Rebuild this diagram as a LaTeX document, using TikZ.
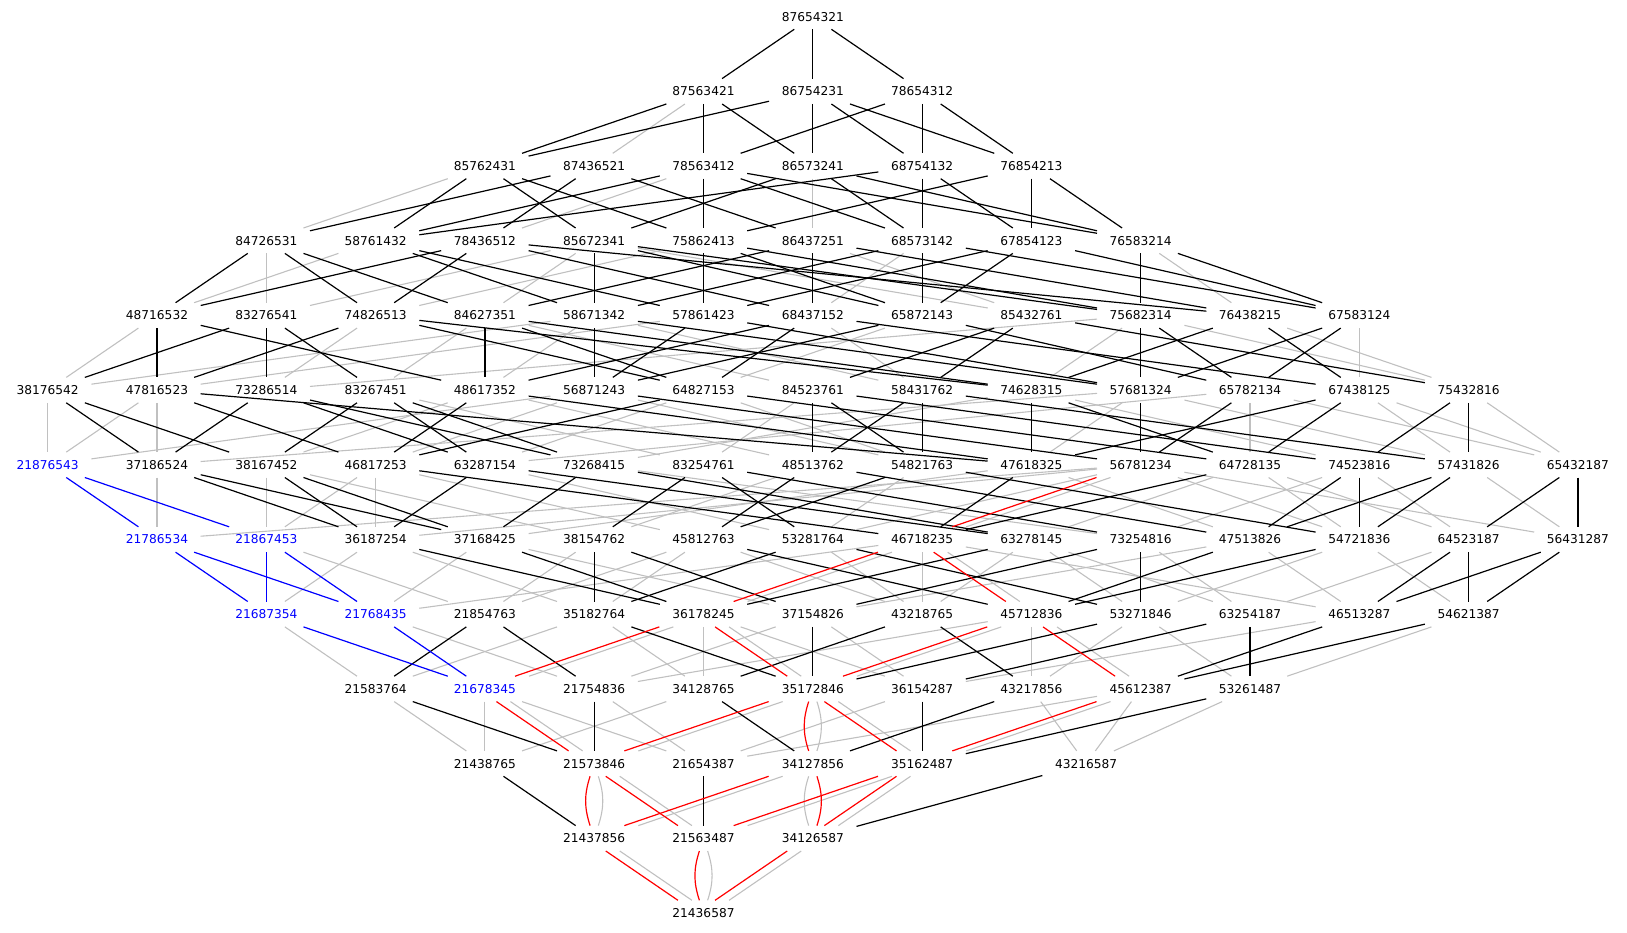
\documentclass[tikz,border=0pt]{standalone}
\usepackage{fontspec}
\setmainfont{DejaVu Sans}
\usepackage{tikz}
\definecolor{lightgr}{HTML}{C0C0C0}

\begin{document}
\begin{tikzpicture}[x=109.3pt,y=-74.7pt,
    perm/.style={font=\fontsize{12.2}{14}\selectfont,minimum width=87pt,minimum height=25pt,inner sep=0pt},
    hl/.style={perm,text=blue},
    gr/.style={draw=lightgr,line width=1.1pt},
    bk/.style={draw=black,line width=1.2pt},
    bu/.style={draw=blue,line width=1.2pt},
    rd/.style={draw=red,line width=1.2pt}]

    \useasboundingbox (-0.4364,-0.2222) rectangle (14.4492,12.2677);

    % rank 12 down to rank 0
    \node[perm] (p87654321) at (7,0) {87654321};

    \node[perm] (p87563421) at (6,1) {87563421};
    \node[perm] (p86754231) at (7,1) {86754231};
    \node[perm] (p78654312) at (8,1) {78654312};

    \node[perm] (p85762431) at (4,2) {85762431};
    \node[perm] (p87436521) at (5,2) {87436521};
    \node[perm] (p78563412) at (6,2) {78563412};
    \node[perm] (p86573241) at (7,2) {86573241};
    \node[perm] (p68754132) at (8,2) {68754132};
    \node[perm] (p76854213) at (9,2) {76854213};

    \node[perm] (p84726531) at (2,3) {84726531};
    \node[perm] (p58761432) at (3,3) {58761432};
    \node[perm] (p78436512) at (4,3) {78436512};
    \node[perm] (p85672341) at (5,3) {85672341};
    \node[perm] (p75862413) at (6,3) {75862413};
    \node[perm] (p86437251) at (7,3) {86437251};
    \node[perm] (p68573142) at (8,3) {68573142};
    \node[perm] (p67854123) at (9,3) {67854123};
    \node[perm] (p76583214) at (10,3) {76583214};

    \node[perm] (p48716532) at (1,4) {48716532};
    \node[perm] (p83276541) at (2,4) {83276541};
    \node[perm] (p74826513) at (3,4) {74826513};
    \node[perm] (p84627351) at (4,4) {84627351};
    \node[perm] (p58671342) at (5,4) {58671342};
    \node[perm] (p57861423) at (6,4) {57861423};
    \node[perm] (p68437152) at (7,4) {68437152};
    \node[perm] (p65872143) at (8,4) {65872143};
    \node[perm] (p85432761) at (9,4) {85432761};
    \node[perm] (p75682314) at (10,4) {75682314};
    \node[perm] (p76438215) at (11,4) {76438215};
    \node[perm] (p67583124) at (12,4) {67583124};

    \node[perm] (p38176542) at (0,5) {38176542};
    \node[perm] (p47816523) at (1,5) {47816523};
    \node[perm] (p73286514) at (2,5) {73286514};
    \node[perm] (p83267451) at (3,5) {83267451};
    \node[perm] (p48617352) at (4,5) {48617352};
    \node[perm] (p56871243) at (5,5) {56871243};
    \node[perm] (p64827153) at (6,5) {64827153};
    \node[perm] (p84523761) at (7,5) {84523761};
    \node[perm] (p58431762) at (8,5) {58431762};
    \node[perm] (p74628315) at (9,5) {74628315};
    \node[perm] (p57681324) at (10,5) {57681324};
    \node[perm] (p65782134) at (11,5) {65782134};
    \node[perm] (p67438125) at (12,5) {67438125};
    \node[perm] (p75432816) at (13,5) {75432816};

    \node[hl]   (p21876543) at (0,6) {21876543};
    \node[perm] (p37186524) at (1,6) {37186524};
    \node[perm] (p38167452) at (2,6) {38167452};
    \node[perm] (p46817253) at (3,6) {46817253};
    \node[perm] (p63287154) at (4,6) {63287154};
    \node[perm] (p73268415) at (5,6) {73268415};
    \node[perm] (p83254761) at (6,6) {83254761};
    \node[perm] (p48513762) at (7,6) {48513762};
    \node[perm] (p54821763) at (8,6) {54821763};
    \node[perm] (p47618325) at (9,6) {47618325};
    \node[perm] (p56781234) at (10,6) {56781234};
    \node[perm] (p64728135) at (11,6) {64728135};
    \node[perm] (p74523816) at (12,6) {74523816};
    \node[perm] (p57431826) at (13,6) {57431826};
    \node[perm] (p65432187) at (14,6) {65432187};

    \node[hl]   (p21786534) at (1,7) {21786534};
    \node[hl]   (p21867453) at (2,7) {21867453};
    \node[perm] (p36187254) at (3,7) {36187254};
    \node[perm] (p37168425) at (4,7) {37168425};
    \node[perm] (p38154762) at (5,7) {38154762};
    \node[perm] (p45812763) at (6,7) {45812763};
    \node[perm] (p53281764) at (7,7) {53281764};
    \node[perm] (p46718235) at (8,7) {46718235};
    \node[perm] (p63278145) at (9,7) {63278145};
    \node[perm] (p73254816) at (10,7) {73254816};
    \node[perm] (p47513826) at (11,7) {47513826};
    \node[perm] (p54721836) at (12,7) {54721836};
    \node[perm] (p64523187) at (13,7) {64523187};
    \node[perm] (p56431287) at (14,7) {56431287};

    \node[hl]   (p21687354) at (2,8) {21687354};
    \node[hl]   (p21768435) at (3,8) {21768435};
    \node[perm] (p21854763) at (4,8) {21854763};
    \node[perm] (p35182764) at (5,8) {35182764};
    \node[perm] (p36178245) at (6,8) {36178245};
    \node[perm] (p37154826) at (7,8) {37154826};
    \node[perm] (p43218765) at (8,8) {43218765};
    \node[perm] (p45712836) at (9,8) {45712836};
    \node[perm] (p53271846) at (10,8) {53271846};
    \node[perm] (p63254187) at (11,8) {63254187};
    \node[perm] (p46513287) at (12,8) {46513287};
    \node[perm] (p54621387) at (13,8) {54621387};

    \node[perm] (p21583764) at (3,9) {21583764};
    \node[hl]   (p21678345) at (4,9) {21678345};
    \node[perm] (p21754836) at (5,9) {21754836};
    \node[perm] (p34128765) at (6,9) {34128765};
    \node[perm] (p35172846) at (7,9) {35172846};
    \node[perm] (p36154287) at (8,9) {36154287};
    \node[perm] (p43217856) at (9,9) {43217856};
    \node[perm] (p45612387) at (10,9) {45612387};
    \node[perm] (p53261487) at (11,9) {53261487};

    \node[perm] (p21438765) at (4,10) {21438765};
    \node[perm] (p21573846) at (5,10) {21573846};
    \node[perm] (p21654387) at (6,10) {21654387};
    \node[perm] (p34127856) at (7,10) {34127856};
    \node[perm] (p35162487) at (8,10) {35162487};
    \node[perm] (p43216587) at (9.5,10) {43216587};

    \node[perm] (p21437856) at (5,11) {21437856};
    \node[perm] (p21563487) at (6,11) {21563487};
    \node[perm] (p34126587) at (7,11) {34126587};

    \node[perm] (p21436587) at (6,12) {21436587};

    % gray covers
    \path[gr] (p87563421) edge (p87436521);
    \path[gr] (p85762431) edge (p84726531);
    \path[gr] (p78563412) edge (p78436512);
    \path[gr] (p86573241) edge (p86437251);
    \path[gr] (p84726531) edge (p83276541);
    \path[gr] (p58761432) edge (p48716532);
    \path[gr] (p85672341) edge (p83276541) edge (p84627351) edge (p85432761);
    \path[gr] (p75862413) edge (p74826513);
    \path[gr] (p86437251) edge (p85432761);
    \path[gr] (p68573142) edge (p68437152);
    \path[gr] (p76583214) edge (p76438215);
    \path[gr] (p48716532) edge (p38176542);
    \path[gr] (p74826513) edge (p73286514);
    \path[gr] (p84627351) edge (p83267451) edge (p84523761);
    \path[gr] (p58671342) edge (p38176542) edge (p48617352) edge (p58431762);
    \path[gr] (p57861423) edge (p47816523);
    \path[gr] (p68437152) edge (p58431762);
    \path[gr] (p65872143) edge (p64827153);
    \path[gr] (p75682314) edge (p73286514) edge (p74628315) edge (p75432816);
    \path[gr] (p76438215) edge (p75432816);
    \path[gr] (p67583124) edge (p67438125);
    \path[gr] (p38176542) edge (p21876543);
    \path[gr] (p47816523) edge (p21876543) edge (p37186524);
    \path[gr] (p83267451) edge (p83254761);
    \path[gr] (p48617352) edge (p38167452) edge (p48513762);
    \path[gr] (p56871243) edge (p21876543) edge (p46817253) edge (p54821763);
    \path[gr] (p64827153) edge (p54821763) edge (p63287154);
    \path[gr] (p84523761) edge (p83254761);
    \path[gr] (p74628315) edge (p73268415) edge (p74523816);
    \path[gr] (p57681324) edge (p37186524) edge (p47618325) edge (p57431826);
    \path[gr] (p65782134) edge (p63287154) edge (p64728135) edge (p65432187);
    \path[gr] (p67438125) edge (p57431826) edge (p65432187);
    \path[gr] (p75432816) edge (p65432187);
    \path[gr] (p37186524) edge (p21786534);
    \path[gr] (p38167452) edge (p21867453) edge (p38154762);
    \path[gr] (p46817253) edge (p21867453) edge (p36187254) edge (p45812763);
    \path[gr] (p63287154) edge (p53281764);
    \path[gr] (p73268415) edge (p73254816);
    \path[gr] (p48513762) edge (p38154762);
    \path[gr] (p54821763) edge (p53281764);
    \path[gr] (p47618325) edge (p37168425) edge (p47513826);
    \path[gr] (p56781234) edge (p21786534) edge (p36187254) edge (p53281764) edge (p54721836) edge (p56431287);
    \path[gr] (p64728135) edge (p54721836) edge (p63278145) edge (p64523187);
    \path[gr] (p74523816) edge (p64523187) edge (p73254816);
    \path[gr] (p57431826) edge (p56431287);
    \path[gr] (p21867453) edge (p21854763);
    \path[gr] (p36187254) edge (p21687354) edge (p35182764);
    \path[gr] (p37168425) edge (p21768435) edge (p37154826);
    \path[gr] (p38154762) edge (p21854763);
    \path[gr] (p45812763) edge (p21854763) edge (p35182764) edge (p43218765);
    \path[gr] (p53281764) edge (p43218765);
    \path[gr] (p46718235) edge (p21768435) edge (p43218765) edge (p46513287);
    \path[gr] (p63278145) edge (p43218765) edge (p53271846) edge (p63254187);
    \path[gr] (p73254816) edge (p63254187);
    \path[gr] (p47513826) edge (p37154826) edge (p46513287);
    \path[gr] (p54721836) edge (p53271846) edge (p54621387);
    \path[gr] (p64523187) edge (p63254187);
    \path[gr] (p21687354) edge (p21583764);
    \path[gr] (p21768435) edge (p21754836);
    \path[gr] (p35182764) edge (p21583764) edge (p34128765);
    \path[gr] (p36178245) edge (p34128765) edge (p36154287);
    \path[gr] (p37154826) edge (p21754836) edge (p36154287);
    \path[gr] (p45712836) edge (p21754836) edge (p43217856);
    \path[gr] (p53271846) edge (p43217856) edge (p53261487);
    \path[gr] (p46513287) edge (p36154287);
    \path[gr] (p54621387) edge (p53261487);
    \path[gr] (p21583764) edge (p21438765);
    \path[gr] (p21678345) edge (p21438765) edge (p21654387);
    \path[gr] (p21754836) edge (p21654387);
    \path[gr] (p34128765) edge (p21438765);
    \path[gr] (p36154287) edge (p21654387);
    \path[gr] (p43217856) edge (p43216587);
    \path[gr] (p45612387) edge (p21654387) edge (p43216587);
    \path[gr] (p53261487) edge (p43216587);

    % gray covers that also carry a red one
    \begin{scope}[transform canvas={xshift=7pt}]
    \path[gr] (p56781234) edge (p46718235);
    \path[gr] (p46718235) edge (p36178245) edge (p45712836);
    \path[gr] (p36178245) edge (p21678345) edge (p35172846);
    \path[gr] (p45712836) edge (p35172846) edge (p45612387);
    \path[gr] (p21678345) edge (p21573846);
    \path[gr] (p35172846) edge (p21573846) edge (p35162487);
    \path[gr] (p45612387) edge (p35162487);
    \path[gr] (p21573846) edge (p21563487);
    \path[gr] (p34127856) edge (p21437856);
    \path[gr] (p35162487) edge (p21563487) edge (p34126587);
    \path[gr] (p21437856) edge (p21436587);
    \path[gr] (p34126587) edge (p21436587);
    \end{scope}
    \path[gr] (p35172846) edge[bend left=18] (p34127856);
    \path[gr] (p21573846) edge[bend left=18] (p21437856);
    \path[gr] (p34127856) edge[bend right=18] (p34126587);
    \path[gr] (p21563487) edge[bend left=18] (p21436587);

    % black covers
    \path[bk] (p87654321) edge (p78654312) edge (p86754231) edge (p87563421);
    \path[bk] (p87563421) edge (p78563412) edge (p85762431) edge (p86573241);
    \path[bk] (p86754231) edge (p68754132) edge (p76854213) edge (p85762431) edge (p86573241);
    \path[bk] (p78654312) edge (p68754132) edge (p76854213) edge (p78563412);
    \path[bk] (p85762431) edge (p58761432) edge (p75862413) edge (p85672341);
    \path[bk] (p87436521) edge (p78436512) edge (p84726531) edge (p86437251);
    \path[bk] (p78563412) edge (p58761432) edge (p68573142) edge (p75862413) edge (p76583214);
    \path[bk] (p86573241) edge (p68573142) edge (p76583214) edge (p85672341);
    \path[bk] (p68754132) edge (p58761432) edge (p67854123) edge (p68573142);
    \path[bk] (p76854213) edge (p67854123) edge (p75862413) edge (p76583214);
    \path[bk] (p84726531) edge (p48716532) edge (p74826513) edge (p84627351);
    \path[bk] (p58761432) edge (p57861423) edge (p58671342);
    \path[bk] (p78436512) edge (p48716532) edge (p68437152) edge (p74826513) edge (p76438215);
    \path[bk] (p85672341) edge (p58671342) edge (p65872143) edge (p75682314);
    \path[bk] (p75862413) edge (p57861423) edge (p65872143) edge (p75682314);
    \path[bk] (p86437251) edge (p68437152) edge (p76438215) edge (p84627351);
    \path[bk] (p68573142) edge (p58671342) edge (p65872143) edge (p67583124);
    \path[bk] (p67854123) edge (p57861423) edge (p65872143) edge (p67583124);
    \path[bk] (p76583214) edge (p67583124) edge (p75682314);
    \path[bk] (p48716532) edge (p47816523) edge (p48617352);
    \path[bk] (p83276541) edge (p38176542) edge (p73286514) edge (p83267451);
    \path[bk] (p74826513) edge (p47816523) edge (p64827153) edge (p74628315);
    \path[bk] (p84627351) edge (p48617352) edge (p64827153) edge (p74628315);
    \path[bk] (p58671342) edge (p56871243) edge (p57681324);
    \path[bk] (p57861423) edge (p56871243) edge (p57681324);
    \path[bk] (p68437152) edge (p48617352) edge (p64827153) edge (p67438125);
    \path[bk] (p65872143) edge (p56871243) edge (p65782134);
    \path[bk] (p85432761) edge (p58431762) edge (p75432816) edge (p84523761);
    \path[bk] (p75682314) edge (p57681324) edge (p65782134);
    \path[bk] (p76438215) edge (p67438125) edge (p74628315);
    \path[bk] (p67583124) edge (p57681324) edge (p65782134);
    \path[bk] (p38176542) edge (p37186524) edge (p38167452);
    \path[bk] (p47816523) edge (p46817253) edge (p47618325);
    \path[bk] (p73286514) edge (p37186524) edge (p63287154) edge (p73268415);
    \path[bk] (p83267451) edge (p38167452) edge (p63287154) edge (p73268415);
    \path[bk] (p48617352) edge (p46817253) edge (p47618325);
    \path[bk] (p56871243) edge (p56781234);
    \path[bk] (p64827153) edge (p46817253) edge (p64728135);
    \path[bk] (p84523761) edge (p48513762) edge (p54821763) edge (p74523816);
    \path[bk] (p58431762) edge (p48513762) edge (p54821763) edge (p57431826);
    \path[bk] (p74628315) edge (p47618325) edge (p64728135);
    \path[bk] (p57681324) edge (p56781234);
    \path[bk] (p65782134) edge (p56781234);
    \path[bk] (p67438125) edge (p47618325) edge (p64728135);
    \path[bk] (p75432816) edge (p57431826) edge (p74523816);
    \path[bk] (p37186524) edge (p36187254) edge (p37168425);
    \path[bk] (p38167452) edge (p36187254) edge (p37168425);
    \path[bk] (p46817253) edge (p46718235);
    \path[bk] (p63287154) edge (p36187254) edge (p63278145);
    \path[bk] (p73268415) edge (p37168425) edge (p63278145);
    \path[bk] (p83254761) edge (p38154762) edge (p53281764) edge (p73254816);
    \path[bk] (p48513762) edge (p45812763) edge (p47513826);
    \path[bk] (p54821763) edge (p45812763) edge (p54721836);
    \path[bk] (p47618325) edge (p46718235);
    \path[bk] (p64728135) edge (p46718235);
    \path[bk] (p74523816) edge (p47513826) edge (p54721836);
    \path[bk] (p57431826) edge (p47513826) edge (p54721836);
    \path[bk] (p65432187) edge (p56431287) edge (p64523187);
    \path[bk] (p36187254) edge (p36178245);
    \path[bk] (p37168425) edge (p36178245);
    \path[bk] (p38154762) edge (p35182764) edge (p37154826);
    \path[bk] (p45812763) edge (p45712836);
    \path[bk] (p53281764) edge (p35182764) edge (p53271846);
    \path[bk] (p63278145) edge (p36178245);
    \path[bk] (p73254816) edge (p37154826) edge (p53271846);
    \path[bk] (p47513826) edge (p45712836);
    \path[bk] (p54721836) edge (p45712836);
    \path[bk] (p64523187) edge (p46513287) edge (p54621387);
    \path[bk] (p56431287) edge (p46513287) edge (p54621387);
    \path[bk] (p21854763) edge (p21583764) edge (p21754836);
    \path[bk] (p35182764) edge (p35172846);
    \path[bk] (p37154826) edge (p35172846);
    \path[bk] (p43218765) edge (p34128765) edge (p43217856);
    \path[bk] (p53271846) edge (p35172846);
    \path[bk] (p63254187) edge (p36154287) edge (p53261487);
    \path[bk] (p46513287) edge (p45612387);
    \path[bk] (p54621387) edge (p45612387);
    \path[bk] (p21583764) edge (p21573846);
    \path[bk] (p21754836) edge (p21573846);
    \path[bk] (p34128765) edge (p34127856);
    \path[bk] (p36154287) edge (p35162487);
    \path[bk] (p43217856) edge (p34127856);
    \path[bk] (p53261487) edge (p35162487);
    \path[bk] (p21438765) edge (p21437856);
    \path[bk] (p21654387) edge (p21563487);
    \path[bk] (p43216587) edge (p34126587);

    % blue covers
    \path[bu] (p21876543) edge (p21786534) edge (p21867453);
    \path[bu] (p21786534) edge (p21687354) edge (p21768435);
    \path[bu] (p21867453) edge (p21687354) edge (p21768435);
    \path[bu] (p21687354) edge (p21678345);
    \path[bu] (p21768435) edge (p21678345);

    % red covers
    \begin{scope}[transform canvas={xshift=-7pt}]
    \path[rd] (p56781234) edge (p46718235);
    \path[rd] (p46718235) edge (p36178245) edge (p45712836);
    \path[rd] (p36178245) edge (p21678345) edge (p35172846);
    \path[rd] (p45712836) edge (p35172846) edge (p45612387);
    \path[rd] (p21678345) edge (p21573846);
    \path[rd] (p35172846) edge (p21573846) edge (p35162487);
    \path[rd] (p45612387) edge (p35162487);
    \path[rd] (p21573846) edge (p21563487);
    \path[rd] (p34127856) edge (p21437856);
    \path[rd] (p35162487) edge (p21563487) edge (p34126587);
    \path[rd] (p21437856) edge (p21436587);
    \path[rd] (p34126587) edge (p21436587);
    \end{scope}
    \path[rd] (p35172846) edge[bend right=18] (p34127856);
    \path[rd] (p21573846) edge[bend right=18] (p21437856);
    \path[rd] (p34127856) edge[bend left=18] (p34126587);
    \path[rd] (p21563487) edge[bend right=18] (p21436587);

\end{tikzpicture}
\end{document}
